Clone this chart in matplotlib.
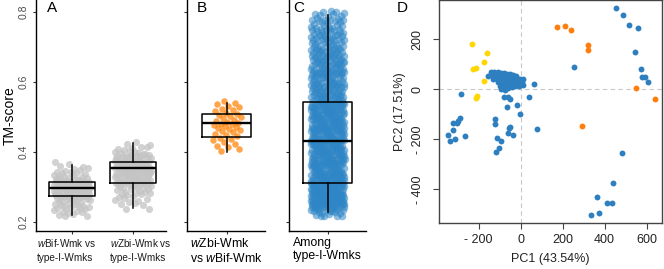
import numpy as np
import matplotlib
matplotlib.use("Agg")
import matplotlib.pyplot as plt

plt.rcParams['font.family'] = ['Liberation Sans', 'DejaVu Sans']
plt.rcParams['mathtext.fontset'] = 'custom'
plt.rcParams['mathtext.rm'] = 'Liberation Sans'
plt.rcParams['mathtext.it'] = 'Liberation Sans:italic'

# ---- panel A: TM-score clouds (value bins + counts)
a1_bins = np.round(np.arange(0.22, 0.375, 0.01), 2)
a1_counts = [4, 5, 6, 7, 8, 10, 14, 16, 16, 14, 10, 7, 5, 4, 3, 1]
a2_bins = np.round(np.arange(0.24, 0.435, 0.01), 2)
a2_counts = [2, 3, 3, 4, 5, 6, 8, 10, 11, 12, 14, 17, 18, 15, 10, 8, 6, 4, 3, 1]
a_labels = ["$\\it{w}$Bif-Wmk vs\ntype-I-Wmks", "$\\it{w}$Zbi-Wmk vs\ntype-I-Wmks"]
# box stats: whislo, q1, med, q3, whishi
a1_box = [0.220, 0.275, 0.298, 0.313, 0.363]
a2_box = [0.239, 0.312, 0.354, 0.371, 0.425]

# ---- panel B
b_values = [0.402, 0.408, 0.415, 0.418, 0.423, 0.428, 0.433, 0.437, 0.441, 0.446,
            0.449, 0.452, 0.456, 0.459, 0.463, 0.466, 0.468, 0.471, 0.474, 0.477,
            0.479, 0.481, 0.484, 0.487, 0.489, 0.492, 0.496, 0.499, 0.502, 0.505,
            0.509, 0.512, 0.516, 0.519, 0.523, 0.528, 0.531, 0.536, 0.540, 0.546]
b_label = "$\\it{w}$Zbi-Wmk\nvs $\\it{w}$Bif-Wmk"
b_box = [0.401, 0.443, 0.482, 0.508, 0.540]

# ---- panel C
c_bins = np.round(np.arange(0.22, 0.805, 0.01), 2)
c_counts = ([6, 10, 14] + [20] * 7 + [15] * 12 + [15] * 11 + [11] * 11
            + [10, 10, 9, 9, 9, 8, 8, 8, 7, 7, 7, 6, 6, 5, 4])
c_label = "Among\ntype-I-Wmks"
c_box = [0.228, 0.312, 0.432, 0.544, 0.792]

# ---- panel D: PCA
pc1_blue = [-140, -125, -110, -95, -80, -65, -50, -35, -20,
            -155, -135, -120, -105, -90, -75, -60, -45, -30, -15, -5, 10,
            -130, -115, -100, -85, -70, -55, -40, -25, -10, 5,
            -110, -95, -80, -65, -50, -35, -20, -5, 10,
            -100, -85, -70, -55, -40, -25, -10, -95, -75, -120, -60, -30,
            455, 487, 516, 558, 546, 574, 580, 592, 606, 254, 62, 40, 76, -5, -18,
            -286, -289, -305, -346, -324, -337, -313, -265, -322, -298,
            -122, -124, -111, -94, -103, -118, -56, -60, -38, -51,
            -80, -59, -51, -64, 481, 438, 362, 412, 433, 374, 335]
pc2_blue = [68, 70, 69, 66, 64, 62, 60, 56, 52,
            55, 58, 54, 50, 52, 48, 50, 46, 47, 43, 40, 40,
            42, 40, 37, 38, 36, 35, 36, 33, 32, 30,
            28, 25, 26, 24, 22, 24, 20, 22, 18,
            12, 10, 12, 14, 10, 12, 12, 0, -2, 62, 5, 28,
            324, 297, 257, 247, 148, 81, 48, 51, 31, 88, 21, -31, -160, -100, -63,
            -19, -116, -133, -183, -163, -205, -199, -186, -133, -125,
            -120, -140, -193, -206, -234, -252, -156, -176, -183, -150,
            -29, -29, -39, -69, -253, -376, -429, -456, -456, -496, -503]
pc1_orange = [175, 210, 238, 321, 321, 293, 548, 638]
pc2_orange = [248, 252, 237, 179, 157, -145, 5, -40]
pc1_yellow = [-233, -160, -176, -211, -227, -173, -208, -211]
pc2_yellow = [180, 145, 109, 85, 83, 32, -27, -36]

W, H = 664, 269
fig = plt.figure(figsize=(W / 100, H / 100), dpi=100)


def px_axes(l, r, t, b):
    return fig.add_axes([l / W, 1 - b / H, (r - l) / W, (b - t) / H])


def jitter(n, width, step=0.6180339887):
    return ((np.arange(n) * step + 0.31) % 1 - 0.5) * 2 * width


def expand(bins, counts):
    return np.repeat(bins, counts).astype(float)


def draw_box(ax, pos, st, width):
    stats = [dict(whislo=st[0], q1=st[1], med=st[2], q3=st[3], whishi=st[4], fliers=[])]
    ax.bxp(stats, positions=[pos], widths=width, showcaps=False, showfliers=False,
           boxprops=dict(color='black', lw=1.1),
           whiskerprops=dict(color='black', lw=1.1),
           medianprops=dict(color='black', lw=1.7), manage_ticks=False)


def style_gg(ax, show_labels):
    for s in ['top', 'right']:
        ax.spines[s].set_visible(False)
    for s in ['left', 'bottom']:
        ax.spines[s].set_linewidth(1.0)
    ax.set_ylim(0.174, 0.835)
    ax.set_yticks([0.2, 0.4, 0.6, 0.8])
    ax.tick_params(axis='both', length=2.5, width=0.8, color='#333333')
    if show_labels:
        ax.set_yticklabels(['0.2', '0.4', '0.6', '0.8'], rotation=90, va='center',
                           fontsize=7.5, color='#4d4d4d')
        ax.tick_params(axis='y', pad=2.5)
    else:
        ax.set_yticklabels([])


# Panel A
axA = px_axes(36, 166, 0, 231)
for pos, bins, counts in [(1, a1_bins, a1_counts), (2, a2_bins, a2_counts)]:
    vals = expand(bins, counts)
    n = len(vals)
    axA.scatter(pos + jitter(n, 0.3), vals + jitter(n, 0.005, 0.7548776662),
                s=26, color='#c4c4c4', alpha=0.75, lw=0, zorder=1)
draw_box(axA, 1, a1_box, 0.75)
draw_box(axA, 2, a2_box, 0.75)
axA.set_xlim(0.415, 2.54)
axA.set_xticks([1, 2])
axA.set_xticklabels([])
style_gg(axA, True)
axA.set_ylabel('TM-score', fontsize=10, labelpad=1.5)
axA.text(0.085, 0.995, 'A', transform=axA.transAxes, fontsize=11, va='top', ha='left')
for lab, xl in zip(a_labels, [37, 110]):
    fig.text(xl / W, 1 - 237 / H, lab, fontsize=7.2, ha='left', va='top',
             linespacing=1.45, color='#1a1a1a')

# Panel B
axB = px_axes(187, 265, 0, 231)
n = len(b_values)
axB.scatter(1 + jitter(n, 0.22), b_values, s=22, color='#ff8000', alpha=0.7, lw=0, zorder=1)
draw_box(axB, 1, b_box, 0.75)
axB.set_xlim(0.392, 1.587)
axB.set_xticks([1])
axB.set_xticklabels([b_label], fontsize=8.8, multialignment='left', color='black')
style_gg(axB, False)
axB.tick_params(axis='x', pad=1.5)
axB.text(0.12, 0.995, 'B', transform=axB.transAxes, fontsize=11, va='top', ha='left')

# Panel C
axC = px_axes(289, 366, 0, 231)
vals = expand(c_bins, c_counts)
n = len(vals)
axC.scatter(1 + jitter(n, 0.26), vals + jitter(n, 0.005, 0.7548776662),
            s=30, color='#2f86c6', alpha=0.55, lw=0, zorder=1)
draw_box(axC, 1, c_box, 0.75)
axC.set_xlim(0.412, 1.587)
axC.set_xticks([1])
axC.set_xticklabels([c_label], fontsize=8.8, multialignment='left', color='black')
style_gg(axC, False)
axC.tick_params(axis='x', pad=1.5)
axC.text(0.06, 0.995, 'C', transform=axC.transAxes, fontsize=11, va='top', ha='left')

# Panel D
axD = px_axes(439, 662, 0, 222.7)
axD.axvline(0, color='#c8c8c8', lw=0.8, ls=(0, (4, 3)), zorder=0)
axD.axhline(0, color='#c8c8c8', lw=0.8, ls=(0, (4, 3)), zorder=0)
axD.scatter(pc1_blue, pc2_blue, s=18, color='#2e7fc0', lw=0, zorder=2)
axD.scatter(pc1_orange, pc2_orange, s=18, color='#ff7f0e', lw=0, zorder=3)
axD.scatter(pc1_yellow, pc2_yellow, s=18, color='#ffd700', lw=0, zorder=3)
axD.set_xlim(-389, 673)
axD.set_ylim(-533.6, 357)
axD.set_xticks([-200, 0, 200, 400, 600])
axD.set_xticklabels(['- 200', '0', '200', '400', '600'], fontsize=9, color='#222222')
axD.set_yticks([-400, -200, 0, 200])
axD.set_yticklabels(['- 400', '- 200', '0', '200'], fontsize=9, rotation=90,
                    va='center', color='#222222')
axD.tick_params(axis='both', length=4, width=0.8, color='#444444')
axD.tick_params(axis='x', pad=4)
axD.tick_params(axis='y', pad=7)
for s in axD.spines.values():
    s.set_color('#444444')
    s.set_linewidth(1.0)
axD.set_xlabel('PC1 (43.54%)', fontsize=9, labelpad=5, color='#222222')
axD.set_ylabel('PC2 (17.51%)', fontsize=9, labelpad=4, color='#222222')
fig.text(397 / W, 1 - 1 / H, 'D', fontsize=11, va='top', ha='left')

fig.savefig('out.png', dpi=100)
